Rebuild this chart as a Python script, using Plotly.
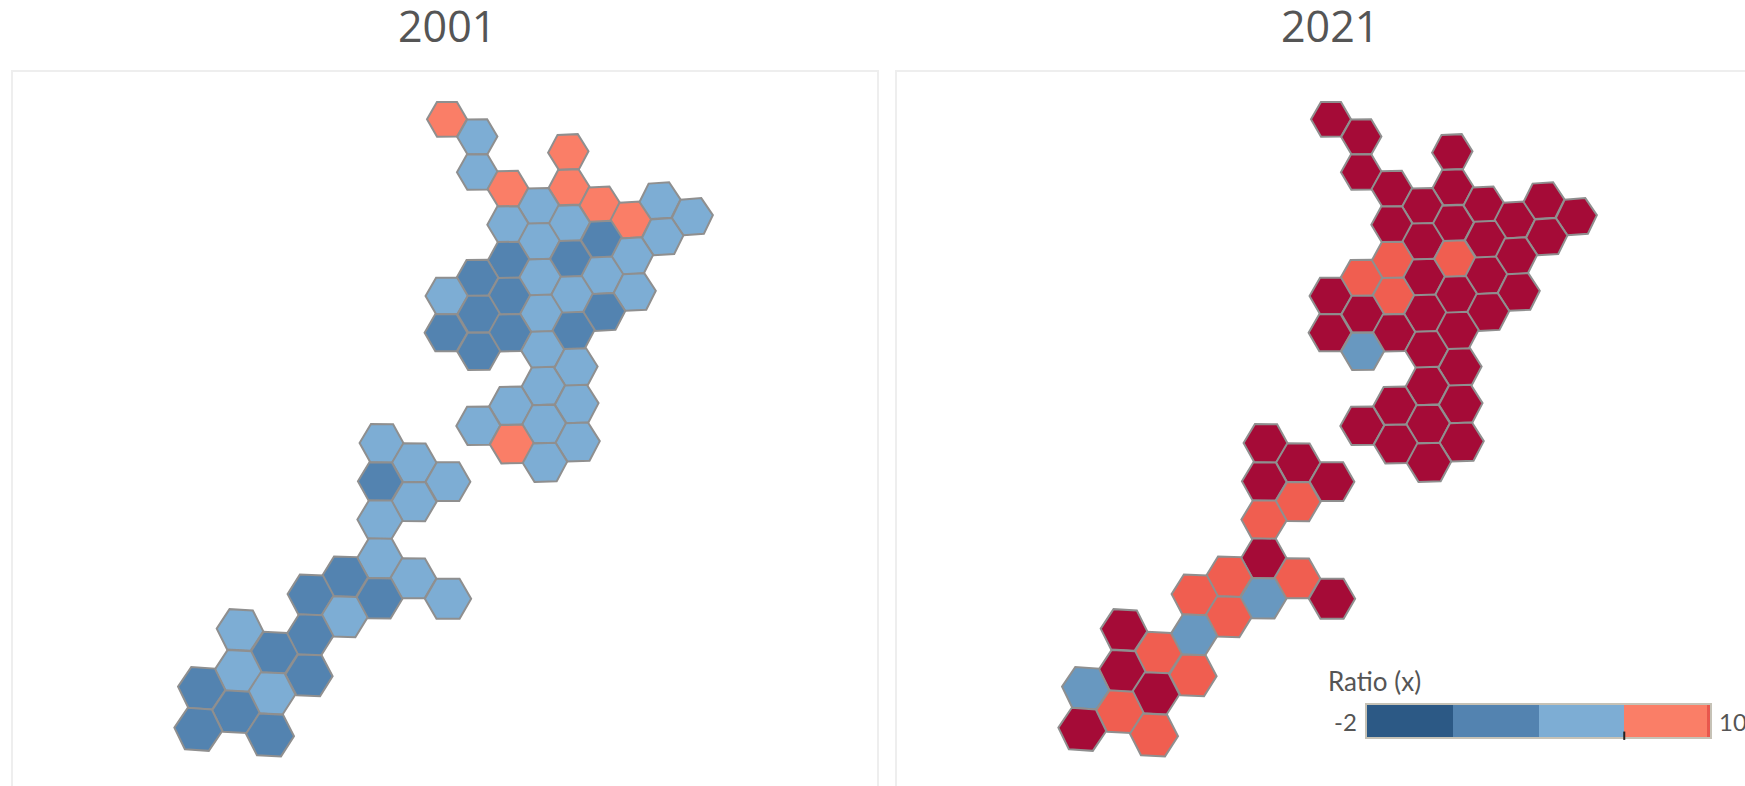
import plotly.graph_objects as go

# Hex-grid cells: map position (x, y) and the ratio band of each cell in each year
cell_x = [447, 477.3, 477.3, 508, 568.3, 569, 538.7, 600, 630.7, 660, 692.3, 508, 569.3, 539,
          601.7, 662.7, 632.3, 508.7, 570.7, 477.3, 540, 602.3, 634.7, 446.7, 509.3, 572, 604,
          478.7, 541.3, 446, 510, 573.3, 478.7,
          542.7, 576, 543.3, 511, 576.7, 544, 478.3, 577.7, 512, 545,
          381.7, 414.3, 448, 380.3, 414, 380, 380, 345, 413.3, 448, 379.3, 310.7, 344.3, 310,
          240, 274.3, 309, 238.3, 201.7, 271.7, 236, 198.3, 270]
cell_y = [119.3, 136.7, 172, 188.7, 152, 187.3, 206, 204.7, 220, 200.7, 216.7, 224.3, 223.3, 241.3,
          239.3, 236.7, 256, 260, 258.7, 278, 277.3, 275.3, 292, 296, 296, 294.7, 312,
          314, 313.3, 332.7, 332.7, 330.7, 351.3,
          350, 367.3, 386, 405.7, 404, 424, 425.7, 442, 444, 462.3,
          443.3, 462.7, 481.7, 481.7, 501.7, 520, 558.3, 576.7, 578.3, 598.7, 598.3, 595, 616.7, 635,
          630, 652.7, 675.3, 671, 688.3, 693.3, 711.7, 729.3, 735]
band_2001 = (list("OLLOOOLOOLLLLLDLLDDDLLLLDLDDLDDDD")
             + list("LLLLLLLLOL")
             + list("LLLDLLLDLLDDLD")
             + list("LDDLDLDDD"))
band_2021 = (list("CCCCCCCCCCCCCCCCCRRRCCCCRCCCCCCCB")
             + list("CCCCCCCCCC")
             + list("CCCCRRCRRCBRRB")
             + list("CRRCBCRCR"))

titles = ["2001", "2021"]
legend_title = "Ratio (x)"
legend_edges = [-2, 1, 4, 7, 9.9, 10]
legend_ticks = ["-2", "10"]
legend_mark = 7

band_colors = {"D": "#5383b0", "L": "#7dadd4", "O": "#fa7e67",
               "C": "#a50b37", "R": "#f05e50", "B": "#6898c0"}
legend_colors = ["#2c5985", "#5383b0", "#7dadd4", "#fa7e67", "#e8574d"]

W, H = 1745, 786
FRAME = "#eeeeee"
TEXT = "#555555"
TOP = 72
PANEL_SHIFT = 884
marker_sizes = [40 + (y - 120) * 8 / 610 for y in cell_y]
marker_tilts = [-(x - 440) / 60 for x in cell_x]


def hex_trace(bands, xaxis, yaxis):
    return go.Scatter(
        x=cell_x, y=cell_y, mode="markers", xaxis=xaxis, yaxis=yaxis, hoverinfo="skip",
        showlegend=False, cliponaxis=False,
        marker=dict(symbol="hexagon2", size=marker_sizes, angle=marker_tilts, opacity=1,
                    color=[band_colors[b] for b in bands],
                    line=dict(color="#8f8f8f", width=2)),
    )


fig = go.Figure()
fig.add_trace(hex_trace(band_2001, "x", "y"))
fig.add_trace(hex_trace(band_2021, "x2", "y2"))
for lo, hi, col in zip(legend_edges[:-1], legend_edges[1:], legend_colors):
    fig.add_trace(go.Bar(x=[hi - lo], base=[lo], y=[0], width=[1], orientation="h",
                         xaxis="x3", yaxis="y3", marker=dict(color=col, line=dict(width=0)),
                         hoverinfo="skip", showlegend=False))

frame_axis = dict(showgrid=False, zeroline=False, showticklabels=False, ticks="",
                  showline=True, linecolor=FRAME, linewidth=2)
plain = dict(showgrid=False, zeroline=False, showticklabels=False, ticks="")
legend_line = dict(showline=True, linecolor="#c6c2b6", linewidth=1.5, mirror=True)
y_dom = [0, 1 - TOP / H]

fig.update_layout(
    width=W, height=H, autosize=False, margin=dict(l=0, r=0, t=0, b=0),
    paper_bgcolor="white", plot_bgcolor="white", barmode="overlay", bargap=0,
    xaxis=dict(domain=[13 / W, 877 / W], range=[13, 877], anchor="y", side="top", **frame_axis),
    yaxis=dict(domain=y_dom, range=[H, TOP], anchor="x", mirror=True, **frame_axis),
    xaxis2=dict(domain=[897 / W, 1], range=[897 - PANEL_SHIFT, W - PANEL_SHIFT], anchor="y2",
                side="top", **frame_axis),
    yaxis2=dict(domain=y_dom, range=[H, TOP], anchor="x2", **frame_axis),
    xaxis3=dict(domain=[1367 / W, 1710 / W], range=[legend_edges[0], legend_edges[-1]],
                anchor="y3", **plain, **legend_line),
    yaxis3=dict(domain=[1 - 737 / H, 1 - 705 / H], range=[-0.5, 0.5], anchor="x3",
                **plain, **legend_line),
    shapes=[dict(type="line", xref="x3", yref="y3 domain", x0=legend_mark, x1=legend_mark,
                 y0=-0.09, y1=0.17, line=dict(color="#222222", width=2))],
)

for title, cx in zip(titles, [446.5, 1330]):
    fig.add_annotation(text=title, xref="paper", yref="paper", x=cx / W, y=1 - 25 / H,
                       xanchor="center", yanchor="middle", showarrow=False,
                       font=dict(family="Open Sans", size=43, color=TEXT))
fig.add_annotation(text=legend_title, xref="paper", yref="paper", x=1326 / W, y=1 - 681 / H,
                   xanchor="left", yanchor="middle", showarrow=False,
                   font=dict(family="Lato", size=26, color=TEXT))
fig.add_annotation(text=legend_ticks[0], xref="paper", yref="paper", x=1359 / W, y=1 - 721 / H,
                   xanchor="right", yanchor="middle", showarrow=False,
                   font=dict(family="Lato", size=24, color=TEXT))
fig.add_annotation(text=legend_ticks[1], xref="paper", yref="paper", x=1717 / W, y=1 - 721 / H,
                   xanchor="left", yanchor="middle", showarrow=False,
                   font=dict(family="Lato", size=24, color=TEXT))

fig.write_html("out.html", config={"displayModeBar": False},
               post_script="document.body.style.margin='0';document.body.style.overflow='hidden';")
